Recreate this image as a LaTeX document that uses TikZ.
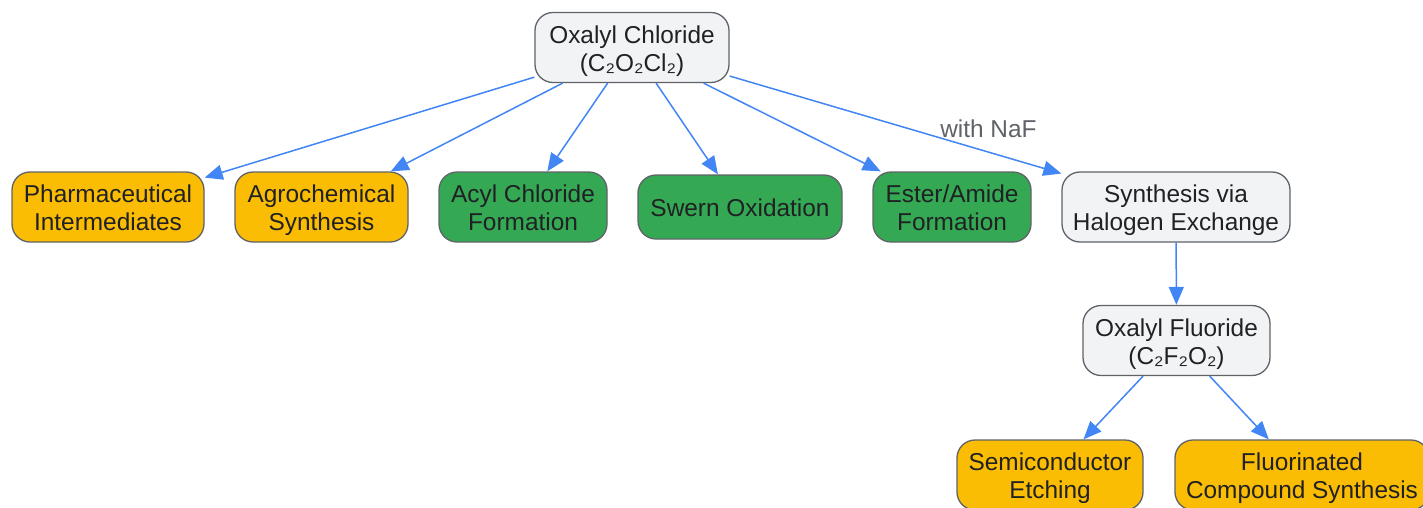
\documentclass[tikz,border=0pt]{standalone}
\usepackage{fontspec}
\setmainfont{Liberation Sans}
\usepackage{xcolor}
\usetikzlibrary{arrows.meta,positioning,shapes}
\definecolor{gBlue}{HTML}{4285F4}
\definecolor{gYellow}{HTML}{FBBC04}
\definecolor{gGreen}{HTML}{34A853}
\definecolor{gGrey}{HTML}{F1F3F4}
\definecolor{gEdge}{HTML}{5F6368}
\definecolor{gText}{HTML}{202124}

\begin{document}
\begin{tikzpicture}[x=1pt,y=-1pt,
  every node/.style={rectangle,rounded corners=18pt,draw=gEdge,line width=1.3pt,
    align=center,text=gText,font=\fontsize{24.4}{28}\selectfont,
    minimum height=70pt,inner xsep=4pt,text height=52pt,text depth=5pt},
  chem/.style={fill=gGrey},
  use/.style={fill=gYellow},
  react/.style={fill=gGreen},
  link/.style={draw=gBlue,line width=1.5pt,-{Triangle[length=18pt,width=15pt]}},
  lbl/.style={draw=none,fill=none,text=gEdge,minimum height=0pt,
    text height=17pt,text depth=0pt}]
  \useasboundingbox (0,0) rectangle (1423,507);

  \node[chem,minimum width=194pt] (oxcl) at (632,47.5) {Oxalyl Chloride\\(C₂O₂Cl₂)};

  \node[use,minimum width=192pt] (pharma) at (108,207) {Pharmaceutical\\Intermediates};
  \node[use,minimum width=173pt] (agro) at (321.5,207) {Agrochemical\\Synthesis};
  \node[react,minimum width=168pt] (acyl) at (523,207) {Acyl Chloride\\Formation};
  \node[react,minimum width=204pt,minimum height=64pt,text height=24pt] (swern) at (740,207) {Swern Oxidation};
  \node[react,minimum width=158pt] (ester) at (952,207) {Ester/Amide\\Formation};
  \node[chem,minimum width=228pt] (halo) at (1176,207) {Synthesis via\\Halogen Exchange};

  \node[chem,minimum width=187pt] (oxf) at (1176.5,340.5) {Oxalyl Fluoride\\(C₂F₂O₂)};
  \node[use,minimum width=186pt] (etch) at (1050,475) {Semiconductor\\Etching};
  \node[use,minimum width=254pt] (fluor) at (1302,475) {Fluorinated\\Compound Synthesis};

  \foreach \t in {pharma,agro,acyl,swern,ester}
    \draw[link] (oxcl) -- (\t);
  \draw[link] (oxcl) -- node[lbl,pos=0.78,above=11pt] {with NaF} (halo);
  \draw[link] (halo) -- (oxf);
  \draw[link] (oxf) -- (etch);
  \draw[link] (oxf) -- (fluor);
\end{tikzpicture}
\end{document}
